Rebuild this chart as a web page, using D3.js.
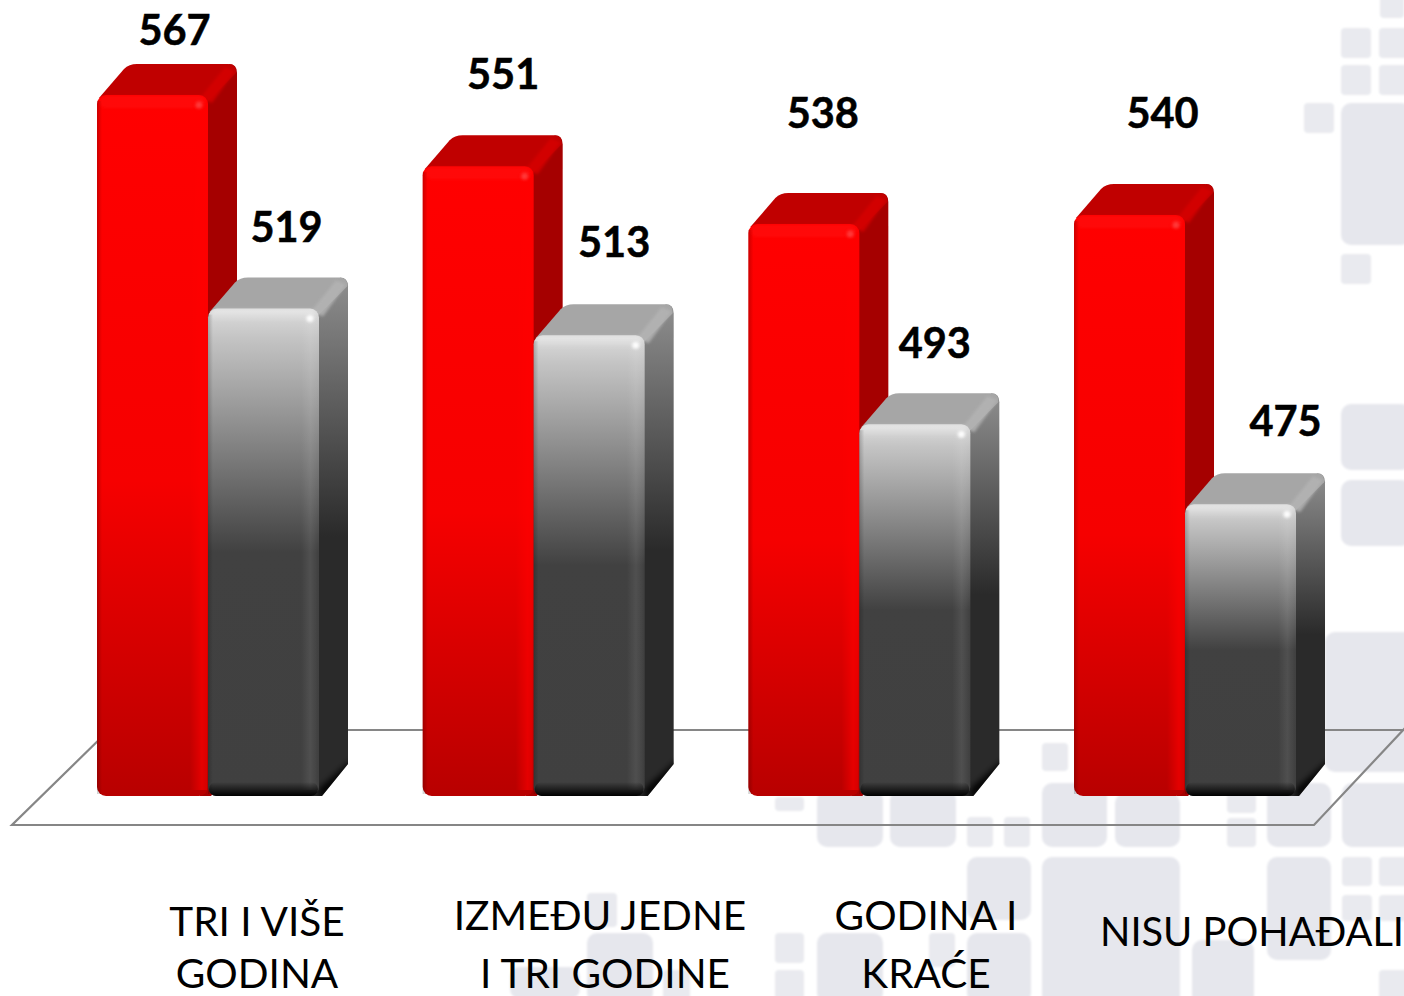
<!DOCTYPE html>
<html><head><meta charset="utf-8">
<script src="https://cdn.jsdelivr.net/npm/d3@7"></script>
<style>
html,body{margin:0;padding:0;background:#fff;overflow:hidden}
svg{display:block}
text{font-family:Lato,"Open Sans",sans-serif;fill:#000}
</style></head><body>
<svg id="c" width="1404" height="996"></svg>
<script>
// ---- chart values ----
const categories = ["TRI I VIŠE GODINA","IZMEĐU JEDNE I TRI GODINE","GODINA I KRAĆE","NISU POHAĐALI"];
const seriesRed  = [567,551,538,540];
const seriesGrey = [519,513,493,475];
const categoryLines = [["TRI I VIŠE","GODINA"],["IZMEĐU JEDNE","I TRI GODINE"],["GODINA I","KRAĆE"],["NISU POHAĐALI"]];

// ---- layout, kept apart from the data ----
const W=1404,H=996,base=796,depth=31,dx=29,barW=111;
const svg=d3.select("#c");
const x=d3.scaleBand().domain(categories).range([97,97+4*325.67]).paddingInner(0).paddingOuter(0);
const y=d3.scaleLinear().domain([409.4,567]).range([base,95]);
const redNudge =[[22,50],[25,77],[19,96],[33,87]];
const greyNudge=[[23,67],[25,78],[20,66],[45,68]];
const catPos=[[[257,936],[257,988]],[[600,930],[605,987.5]],[[926,930],[926,987.5]],[[1100,946]]];
const catSize=[40.5,40.5,40.5,39.8];
const tiles=[[1380,-10,24,28],[1341,28,30,30],[1379,28,30,30],[1341,65,30,30],[1379,65,30,30],[1304,103,30,30],[1341,103,70,142],[1341,254,30,30],
[1341,404,70,66],[1341,480,70,66],[1325,632,90,140],[1042,743,26,28],[775,797,29,14],[817,790,66,57],[890,790,66,57],[967,817,26,30],[1004,817,26,30],
[1042,783,65,64],[1115,793,65,54],[1227,793,29,20],[1227,818,29,29],[1267,783,64,64],[1342,783,70,64],[967,857,64,63],[1042,857,138,150],[1267,857,64,103],
[1342,857,30,29],[1379,857,30,29],[1379,895,30,26],[1342,895,30,26],[775,933,29,30],[775,970,29,30],[817,933,66,70],[929,933,26,34],[967,933,64,70],
[1192,940,62,70],[1379,970,30,30],[587,893,30,34],[587,933,66,70],[663,970,27,30],[510,967,70,32]];

const defs=svg.append("defs");
function grad(id,stops,hor){
  const g=defs.append("linearGradient").attr("id",id).attr("x1",0).attr("y1",0).attr("x2",hor?1:0).attr("y2",hor?0:1);
  stops.forEach(s=>g.append("stop").attr("offset",s[0]).attr("stop-color",s[1]).attr("stop-opacity",s[2]===undefined?1:s[2]));
}
grad("redFront",[[0,"#ff0000"],[.55,"#f60000"],[1,"#b80000"]]);
grad("greyFront",[[0,"#dcdcdc"],[.06,"#c4c4c4"],[.5,"#414141"],[1,"#404040"]]);
grad("greySide",[[0,"#8e8e8e"],[.5,"#2a2a2a"],[1,"#2a2a2a"]]);
grad("leftEdge",[[0,"#000",.2],[1,"#000",0]],true);
grad("rightEdgeW",[[0,"#fff",0],[.55,"#fff",.08],[.85,"#fff",.03],[1,"#fff",0]],true);
grad("rightEdgeR",[[0,"#ff0000",0],[.7,"#ff0000",.6],[1,"#ff0000",.4]],true);
grad("bottomBlack",[[0,"#000",0],[1,"#000",1]]);
grad("topGlowW",[[0,"#fff",.35],[1,"#fff",0]]);
function blur(id,s){defs.append("filter").attr("id",id).attr("x","-30%").attr("y","-30%").attr("width","160%").attr("height","160%")
  .append("feGaussianBlur").attr("stdDeviation",s);}
blur("soft",1.6);blur("tileSoft",.9);blur("cornerSoft",3);

// faint background tiles
svg.append("g").attr("filter","url(#tileSoft)").selectAll("rect").data(tiles).join("rect")
  .attr("x",d=>d[0]).attr("y",d=>d[1]).attr("width",d=>d[2]).attr("height",d=>d[3]).attr("rx",d=>d[2]>50?10:4)
  .attr("fill",d=>d[2]>50?"#e6e7ed":"#e9eaef");

// floor
const line=d3.line();
svg.append("path").attr("d",line([[107,730],[1404,730]])).attr("stroke","#868686").attr("stroke-width",2.2).attr("fill","none");
svg.append("path").attr("d",line([[110,729],[12,825],[1314,825],[1406,727]])).attr("stroke","#868686").attr("stroke-width",2.2).attr("fill","none");

let uid=0;
function bar(g,x0,val,kind){
  const top=y(val),r=9,xr=x0+barW,d=depth;
  const isRed=kind==="red";
  const sideFill=isRed?"#a50000":"url(#greySide)";
  const topFill=isRed?"#c00000":"#a6a6a6";
  const sideD=`M${xr-8},${top+2}L${xr+dx-8},${top-d}Q${xr+dx},${top-d} ${xr+dx},${top-d+9}L${xr+dx},${base-d+(isRed?0:-1)}L${xr+3},${base}L${xr-8},${base}Z`;
  g.append("path").attr("fill",sideFill).attr("d",sideD);
  g.append("path").attr("fill",topFill)
   .attr("d",`M${x0+2},${top+3}L${x0+27},${top-26}Q${x0+32},${top-d} ${x0+40},${top-d}L${xr+dx-9},${top-d}Q${xr+dx},${top-d} ${xr+dx-1},${top-d+9}L${xr},${top+6}Z`);
  g.append("path").attr("fill",isRed?"#d60000":"#b4b4b4").attr("opacity",.85).attr("filter","url(#soft)")
   .attr("d",`M${xr-8},${top+3}L${xr+dx-12},${top-d+3}L${xr+dx-2},${top-d+7}L${xr+4},${top+8}Z`);
  if(!isRed){
    const id="sc"+(uid++);
    defs.append("clipPath").attr("id",id).append("path").attr("d",sideD);
    g.append("g").attr("clip-path",`url(#${id})`).append("path").attr("fill","#000").attr("filter","url(#cornerSoft)")
     .attr("d",`M${xr},${base+6}L${xr+dx+4},${base-d+2}L${xr+dx+4},${base-d-5}L${xr},${base-7}Z`);
  }
  g.append("rect").attr("x",x0).attr("y",top).attr("width",barW).attr("height",base-top)
   .attr("rx",r).attr("ry",r).attr("fill",isRed?"url(#redFront)":"url(#greyFront)");
  g.append("rect").attr("x",x0+3).attr("y",top+1).attr("width",barW-6).attr("height",12).attr("rx",5)
   .attr("fill",isRed?"#ff1a1a":"url(#topGlowW)").attr("opacity",isRed?.35:1).attr("filter","url(#soft)");
  g.append("rect").attr("x",xr-18).attr("y",top+8).attr("width",17).attr("height",base-top-14)
   .attr("fill",isRed?"url(#rightEdgeR)":"url(#rightEdgeW)");
  g.append("rect").attr("x",x0).attr("y",top+6).attr("width",5).attr("height",base-top-8).attr("fill","url(#leftEdge)");
  g.append("circle").attr("cx",xr-9).attr("cy",top+10).attr("r",3.5).attr("fill",isRed?"#ff5050":"#fff").attr("opacity",isRed?.7:.95).attr("filter","url(#soft)");
  if(!isRed){
    g.append("rect").attr("x",x0+1).attr("y",base-14).attr("width",barW-2).attr("height",14).attr("rx",7).attr("fill","url(#bottomBlack)");
  }
}

const bars=svg.append("g");
categories.forEach((c,i)=>{
  const x0=x(c);
  const g=bars.append("g");
  bar(g,x0,seriesRed[i],"red");
  bar(g,x0+barW,seriesGrey[i],"grey");
});

// value labels
const lab=svg.append("g").attr("font-weight",700).attr("font-size",41.5).attr("text-anchor","middle").attr("stroke","#000").attr("stroke-width",.5);
categories.forEach((c,i)=>{
  const x0=x(c);
  lab.append("text").attr("x",x0+barW/2+redNudge[i][0]).attr("y",y(seriesRed[i])-redNudge[i][1]).text(seriesRed[i]);
  lab.append("text").attr("x",x0+barW*1.5+greyNudge[i][0]).attr("y",y(seriesGrey[i])-greyNudge[i][1]).text(seriesGrey[i]);
});

// category labels
const cat=svg.append("g");
categoryLines.forEach((lines,i)=>{
  lines.forEach((t,j)=>{
    cat.append("text").attr("x",catPos[i][j][0]).attr("y",catPos[i][j][1]).attr("font-size",catSize[i])
      .attr("text-anchor",i===3?"start":"middle").text(t);
  });
});
</script></body></html>
